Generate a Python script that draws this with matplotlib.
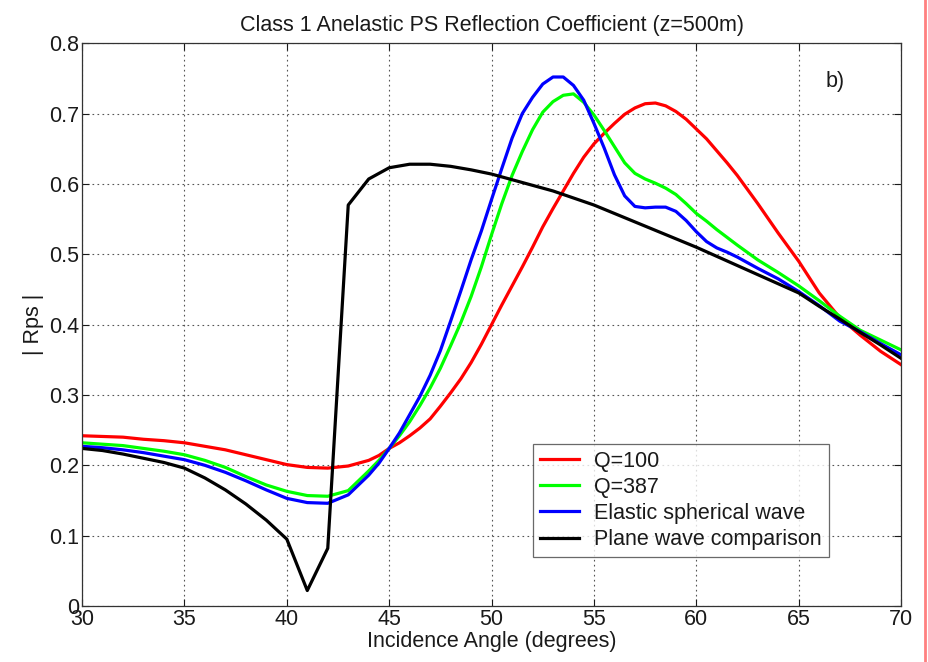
import numpy as np
import matplotlib; matplotlib.use("Agg"); import matplotlib.pyplot as plt
from matplotlib.lines import Line2D

plt.rcParams['font.family'] = ['Liberation Sans', 'DejaVu Sans']

# ---- values (incidence angle in degrees, |Rps|) ----
# coloured curves: 1 deg steps in the tails, 0.5 deg steps through the peaks
ang_c = np.concatenate([np.arange(30, 44), np.arange(44, 62.5, 0.5), np.arange(63, 71)])

q100 = [0.242,0.241,0.240,0.237,0.235,0.232,0.227,0.222,0.215,0.208,
        0.201,0.197,0.196,0.199,
        0.207,0.214,0.224,0.232,0.242,0.253,0.266,0.284,0.303,0.323,
        0.346,0.372,0.400,0.428,0.455,0.482,0.510,0.539,0.565,0.590,
        0.615,0.638,0.657,0.672,0.686,0.699,0.708,0.714,0.715,0.711,
        0.703,0.692,0.678,0.664,0.647,0.630,0.612,
        0.572,0.530,0.490,0.445,0.410,0.385,0.362,0.343]

q387 = [0.232,0.230,0.228,0.224,0.220,0.215,0.207,0.197,0.184,0.172,
        0.163,0.157,0.156,0.164,
        0.192,0.207,0.224,0.242,0.262,0.285,0.310,0.338,0.370,0.403,
        0.440,0.482,0.528,0.572,0.612,0.646,0.677,0.702,0.717,0.726,
        0.728,0.716,0.698,0.676,0.653,0.630,0.615,0.607,0.601,0.594,
        0.585,0.572,0.558,0.547,0.535,0.524,0.513,
        0.492,0.474,0.455,0.434,0.412,0.392,0.378,0.364]

elastic = [0.227,0.225,0.222,0.218,0.213,0.208,0.200,0.190,0.178,0.165,
           0.153,0.147,0.146,0.158,
           0.186,0.203,0.224,0.246,0.272,0.298,0.328,0.363,0.405,0.448,
           0.492,0.533,0.578,0.622,0.665,0.700,0.723,0.742,0.752,0.752,
           0.740,0.719,0.686,0.651,0.613,0.583,0.568,0.566,0.567,0.567,
           0.561,0.548,0.532,0.518,0.509,0.503,0.496,
           0.480,0.465,0.447,0.427,0.405,0.390,0.373,0.357]

# plane-wave curve is sampled every degree (sharp corners at 41-43 deg)
ang_p = np.arange(30, 71)
plane = [0.224,0.221,0.216,0.210,0.204,0.196,0.182,0.165,0.145,0.122,
         0.095,0.022,0.082,0.570,0.607,0.623,0.628,0.628,0.625,0.620,
         0.614,0.606,0.598,0.590,0.580,0.570,0.558,0.546,0.534,0.522,
         0.510,0.497,0.484,0.471,0.458,0.445,0.426,0.408,0.389,0.371,0.352]

series = [(ang_c, q100, "#ff0000", "Q=100"),
          (ang_c, q387, "#00ff00", "Q=387"),
          (ang_c, elastic, "#0000ff", "Elastic spherical wave"),
          (ang_p, plane, "#000000", "Plane wave comparison")]

TXT = "#1a1a1a"
FS = 15.5

fig = plt.figure(figsize=(9.29, 6.62), dpi=100)
ax = fig.add_axes([0.0883, 0.0846, 0.8817, 0.8501])

for x, vals, col, lab in series:
    ax.plot(x, vals, color=col, lw=2.3, label=lab, solid_joinstyle="round")

ax.set_xlim(30, 70); ax.set_ylim(0, 0.8)
ax.set_xticks(np.arange(30, 71, 5))
ax.set_yticks(np.arange(0, 0.81, 0.1))
ax.set_yticklabels(["0", "0.1", "0.2", "0.3", "0.4", "0.5", "0.6", "0.7", "0.8"])
ax.grid(True, ls=(0, (1.5, 3)), color="#555555", lw=0.8)
ax.tick_params(direction="in", top=True, right=True, length=5,
               labelsize=FS, colors=TXT, width=0.8, pad=2)
for s in ax.spines.values():
    s.set_color("#333333"); s.set_linewidth(0.9)

ax.set_title("Class 1 Anelastic PS Reflection Coefficient (z=500m)",
             fontsize=FS, color=TXT, pad=9)
ax.set_xlabel("Incidence Angle (degrees)", fontsize=FS, color=TXT, labelpad=1)
ax.set_ylabel("| Rps |", fontsize=FS, color=TXT, labelpad=4)
ax.text(66.8, 0.745, "b)", fontsize=FS, color=TXT, ha="center", va="center")

leg = ax.legend(loc="lower left", bbox_to_anchor=(0.551, 0.087), fontsize=FS,
                frameon=True, fancybox=False, edgecolor="#444444",
                handlelength=1.8, borderpad=0.32, labelspacing=0.24,
                handletextpad=0.7, borderaxespad=0)
leg.get_frame().set_linewidth(0.9)
for t in leg.get_texts():
    t.set_color(TXT)

# red edge line at the right border of the page
fig.add_artist(Line2D([0.9955, 0.9955], [0, 1], color="#ff8080", lw=2,
                      transform=fig.transFigure))

fig.savefig("out.png", dpi=100)
